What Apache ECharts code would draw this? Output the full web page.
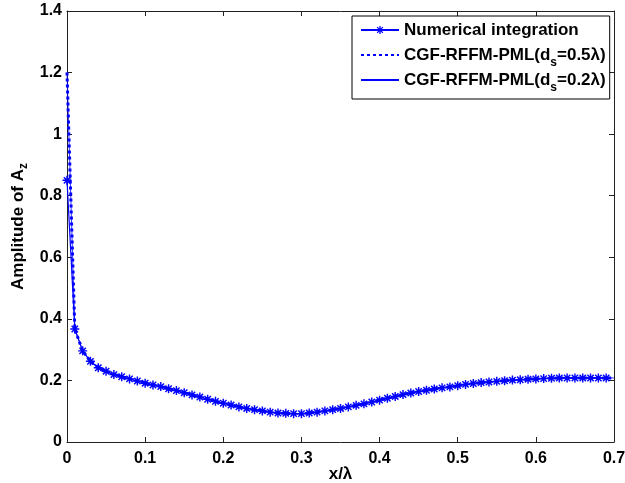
<!DOCTYPE html>
<html><head><meta charset="utf-8">
<script src="https://cdn.jsdelivr.net/npm/echarts@6/dist/echarts.min.js"></script>
<style>html,body{margin:0;padding:0;background:#fff;overflow:hidden}#c{width:625px;height:483px}</style>
</head><body><div id="c"></div>
<script>
// x positions (x/λ)
const xs = [0.00,0.01,0.02,0.03,0.04,0.05,0.06,0.07,0.08,0.09,
            0.10,0.11,0.12,0.13,0.14,0.15,0.16,0.17,0.18,0.19,
            0.20,0.21,0.22,0.23,0.24,0.25,0.26,0.27,0.28,0.29,
            0.30,0.31,0.32,0.33,0.34,0.35,0.36,0.37,0.38,0.39,
            0.40,0.41,0.42,0.43,0.44,0.45,0.46,0.47,0.48,0.49,
            0.50,0.51,0.52,0.53,0.54,0.55,0.56,0.57,0.58,0.59,
            0.60,0.61,0.62,0.63,0.64,0.65,0.66,0.67,0.68,0.69,0.70];
// Numerical integration (0 .. 0.69)
const numerical = [0.850,0.367,0.296,0.262,0.241,0.230,0.219,0.212,0.205,0.198,
                   0.191,0.185,0.180,0.173,0.167,0.160,0.153,0.146,0.139,0.132,
                   0.126,0.120,0.114,0.109,0.105,0.101,0.097,0.094,0.093,0.092,
                   0.092,0.094,0.097,0.101,0.105,0.109,0.114,0.119,0.124,0.130,
                   0.136,0.142,0.148,0.154,0.159,0.164,0.168,0.172,0.176,0.179,
                   0.183,0.187,0.190,0.193,0.195,0.197,0.199,0.201,0.202,0.204,
                   0.205,0.206,0.207,0.208,0.208,0.208,0.208,0.208,0.208,0.208];
// CGF-RFFM-PML (ds = 0.5λ)
const cgf05 = [1.200,0.367,0.296,0.262,0.241,0.230,0.219,0.212,0.205,0.198,
               0.191,0.185,0.180,0.173,0.167,0.160,0.153,0.146,0.139,0.132,
               0.126,0.120,0.114,0.109,0.105,0.101,0.097,0.094,0.093,0.092,
               0.092,0.094,0.097,0.101,0.105,0.109,0.114,0.119,0.124,0.130,
               0.136,0.142,0.148,0.154,0.159,0.164,0.168,0.172,0.176,0.179,
               0.183,0.187,0.190,0.193,0.195,0.197,0.199,0.201,0.202,0.204,
               0.205,0.206,0.207,0.208,0.208,0.208,0.208,0.208,0.208,0.208,0.208];
// CGF-RFFM-PML (ds = 0.2λ)
const cgf02 = [1.200,0.367,0.296,0.262,0.241,0.230,0.219,0.212,0.205,0.198,
               0.191,0.185,0.180,0.173,0.167,0.160,0.153,0.146,0.139,0.132,
               0.126,0.120,0.114,0.109,0.105,0.101,0.097,0.094,0.093,0.092,
               0.092,0.094,0.097,0.101,0.105,0.109,0.114,0.119,0.124,0.130,
               0.136,0.142,0.148,0.154,0.159,0.164,0.168,0.172,0.176,0.179,
               0.183,0.187,0.190,0.193,0.195,0.197,0.199,0.201,0.202,0.204,
               0.205,0.206,0.207,0.208,0.208,0.208,0.208,0.208,0.208,0.208,0.208];
const seriesNames = ['Numerical integration','CGF-RFFM-PML(ds=0.5λ)','CGF-RFFM-PML(ds=0.2λ)'];
const xTicks = {min:0, max:0.7, interval:0.1};
const yTicks = {min:0, max:1.4, interval:0.2};

const pair = (ys) => ys.map((y,i) => [xs[i], y]);
const FONT = '"Liberation Sans", Arial, Helvetica, sans-serif';
const STAR = 'path://M-0.8,-5L0.8,-5L0.8,5L-0.8,5Z M-5,-0.8L5,-0.8L5,0.8L-5,0.8Z M-4.1,-2.97L-2.97,-4.1L4.1,2.97L2.97,4.1Z M-2.97,4.1L-4.1,2.97L2.97,-4.1L4.1,-2.97Z';
const fmt = v => String(parseFloat(Number(v).toFixed(1)));
const axisCol = '#222';
const labelStyle = {color:'#000', fontFamily:FONT, fontWeight:'bold', fontSize:16};

const chart = echarts.init(document.getElementById('c'), null, {renderer:'canvas', width:625, height:483});
chart.setOption({
  animation:false,
  backgroundColor:'#fff',
  grid:{left:67, top:11, width:547, height:431, containLabel:false, outerBoundsMode:'none'},
  legend:{
    orient:'vertical', left:352, top:16,
    padding:[0,4,5,8], itemGap:-3,
    itemWidth:38, itemHeight:10,
    backgroundColor:'#fff', borderColor:'#000', borderWidth:1,
    data:[
      {name:seriesNames[0]},
      {name:seriesNames[1], itemStyle:{opacity:0}},
      {name:seriesNames[2], itemStyle:{opacity:0}}
    ],
    formatter: name => {
      if (name === seriesNames[0]) return '{b|Numerical integration}';
      const m = name.match(/\(ds=(.*)\)/);
      return '{b|CGF-RFFM-PML(d}{s|s}{b|=' + m[1] + ')}';
    },
    textStyle:{
      color:'#000', fontFamily:FONT, fontWeight:'bold', fontSize:17, lineHeight:28,
      rich:{
        b:{color:'#000', fontFamily:FONT, fontWeight:'bold', fontSize:17, lineHeight:28},
        s:{color:'#000', fontFamily:FONT, fontWeight:'bold', fontSize:12, lineHeight:28, height:12, verticalAlign:'bottom'}
      }
    }
  },
  xAxis:[{
    type:'value', position:'bottom', min:xTicks.min, max:xTicks.max, interval:xTicks.interval,
    axisLine:{show:true, onZero:false, lineStyle:{color:axisCol, width:1}},
    axisTick:{show:true, inside:true, length:5, lineStyle:{color:axisCol}},
    axisLabel:Object.assign({margin:9, formatter:fmt}, labelStyle),
    splitLine:{show:false},
    name:'x/λ', nameLocation:'middle', nameGap:24, nameMoveOverlap:false,
    nameTextStyle:{color:'#000', fontFamily:FONT, fontWeight:'bold', fontSize:17}
  },{
    type:'value', position:'top', min:xTicks.min, max:xTicks.max, interval:xTicks.interval,
    axisLine:{show:true, onZero:false, lineStyle:{color:axisCol, width:1}},
    axisTick:{show:true, inside:true, length:5, lineStyle:{color:axisCol}},
    axisLabel:{show:false}, splitLine:{show:false}
  }],
  yAxis:[{
    type:'value', position:'left', min:yTicks.min, max:yTicks.max, interval:yTicks.interval,
    axisLine:{show:true, onZero:false, lineStyle:{color:axisCol, width:1}},
    axisTick:{show:true, inside:true, length:5, lineStyle:{color:axisCol}},
    axisLabel:Object.assign({margin:5, formatter:fmt}, labelStyle),
    splitLine:{show:false},
    name:'{b|Amplitude of A}{s|z}', nameLocation:'middle', nameGap:37, nameRotate:90, nameMoveOverlap:false,
    nameTextStyle:{
      color:'#000', fontFamily:FONT, fontWeight:'bold', fontSize:17, lineHeight:24,
      rich:{
        b:{color:'#000', fontFamily:FONT, fontWeight:'bold', fontSize:17, lineHeight:24},
        s:{color:'#000', fontFamily:FONT, fontWeight:'bold', fontSize:12, lineHeight:24, height:12, verticalAlign:'bottom'}
      }
    }
  },{
    type:'value', position:'right', min:yTicks.min, max:yTicks.max, interval:yTicks.interval,
    axisLine:{show:true, onZero:false, lineStyle:{color:axisCol, width:1}},
    axisTick:{show:true, inside:true, length:5, lineStyle:{color:axisCol}},
    axisLabel:{show:false}, splitLine:{show:false}
  }],
  series:[{
    name:seriesNames[0], type:'line', xAxisIndex:0, yAxisIndex:0,
    data:pair(numerical),
    symbol:STAR, symbolSize:9, showSymbol:true,
    lineStyle:{color:'#0000ff', width:1.2},
    itemStyle:{color:'#0000ff'},
    z:2
  },{
    name:seriesNames[1], type:'line', xAxisIndex:0, yAxisIndex:0,
    data:pair(cgf05),
    showSymbol:false, symbol:'none',
    lineStyle:{color:'#0000ff', width:3, type:[3,3], cap:'butt'},
    itemStyle:{color:'#0000ff'},
    z:3
  },{
    name:seriesNames[2], type:'line', xAxisIndex:0, yAxisIndex:0,
    data:pair(cgf02),
    showSymbol:false, symbol:'none',
    lineStyle:{color:'#0000ff', width:0.8},
    itemStyle:{color:'#0000ff'},
    z:4
  }]
});
</script></body></html>
